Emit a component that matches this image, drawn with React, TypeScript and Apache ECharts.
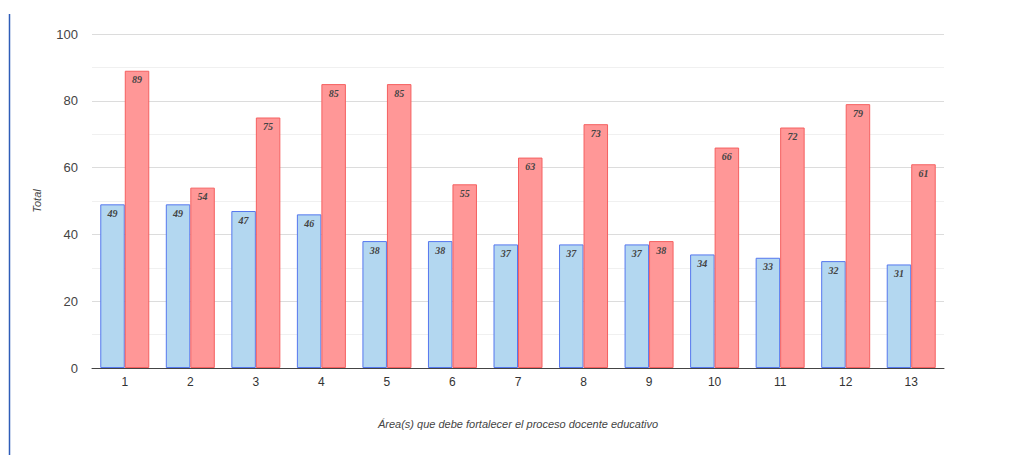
import React, { useEffect, useRef } from "react";
import * as echarts from "echarts";

const categories = ["1", "2", "3", "4", "5", "6", "7", "8", "9", "10", "11", "12", "13"];
const blueValues = [49, 49, 47, 46, 38, 38, 37, 37, 37, 34, 33, 32, 31];
const redValues = [89, 54, 75, 85, 85, 55, 63, 73, 38, 66, 72, 79, 61];
const yTicks = [0, 20, 40, 60, 80, 100];

export default function App() {
  const ref = useRef<HTMLDivElement>(null);
  useEffect(() => {
    if (!ref.current) return;
    const chart = echarts.init(ref.current, undefined, { renderer: "svg" });
    const label = {
      show: true,
      position: "insideTop",
      distance: 4,
      fontFamily: "Liberation Serif, serif",
      fontStyle: "italic",
      fontWeight: "bold",
      fontSize: 10,
      color: "#444",
    };
    chart.setOption({
      animation: false,
      backgroundColor: "#fff",
      grid: { left: 92, right: 70, top: 34, bottom: 87, containLabel: false },
      graphic: [
        {
          type: "line",
          shape: { x1: 9.5, y1: 14, x2: 9.5, y2: 455 },
          style: { stroke: "#2e5cb8", lineWidth: 1.5 },
        },
      ],
      xAxis: {
        type: "category",
        data: categories,
        name: "Área(s) que debe fortalecer el proceso docente educativo",
        nameLocation: "middle",
        nameGap: 50,
        nameTextStyle: { fontFamily: "Liberation Sans, Arial", fontStyle: "italic", fontSize: 11, color: "#444" },
        axisLine: { lineStyle: { color: "#444", width: 1 } },
        axisTick: { show: false },
        axisLabel: { fontFamily: "Liberation Sans, Arial", fontSize: 12, color: "#333", margin: 8 },
      },
      yAxis: {
        type: "value",
        min: yTicks[0],
        max: yTicks[yTicks.length - 1],
        interval: 20,
        name: "Total",
        nameLocation: "middle",
        nameGap: 50,
        nameTextStyle: { fontFamily: "Liberation Sans, Arial", fontStyle: "italic", fontSize: 11, color: "#444" },
        axisLine: { show: false },
        axisTick: { show: false },
        axisLabel: { fontFamily: "Liberation Sans, Arial", fontSize: 13, color: "#444", margin: 14 },
        splitLine: { lineStyle: { color: "#dcdcdc", width: 1 } },
        minorTick: { show: false, splitNumber: 2 },
        minorSplitLine: { show: true, lineStyle: { color: "#f0f0f0", width: 1 } },
      },
      series: [
        {
          type: "bar",
          data: blueValues,
          barWidth: 24.5,
          barGap: "0%",
          itemStyle: { color: "#b3d7f0", borderColor: "#5577ee", borderWidth: 1 },
          label,
        },
        {
          type: "bar",
          data: redValues,
          barWidth: 24.5,
          barGap: "0%",
          itemStyle: { color: "#ff9797", borderColor: "#f56060", borderWidth: 1 },
          label,
        },
      ],
    });
    return () => chart.dispose();
  }, []);
  return (
    <div
      ref={ref}
      style={{ position: "fixed", left: 0, top: 0, width: 1014, height: 455, background: "#fff" }}
    />
  );
}
